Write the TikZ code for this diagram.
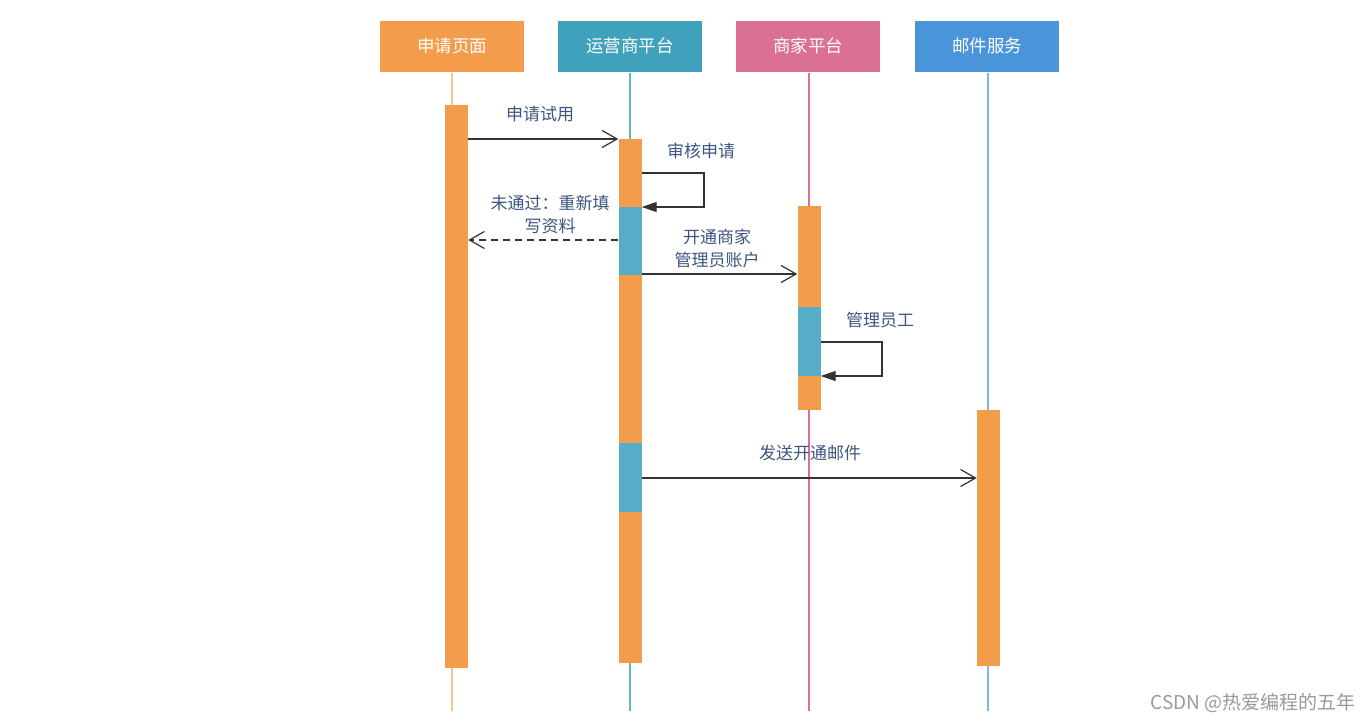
\documentclass[tikz,border=0pt]{standalone}
\usepackage{fontspec}
\newfontfamily\cjk{Noto Sans CJK SC}
\usetikzlibrary{arrows.meta}
\definecolor{cOrange}{HTML}{F39C4B}
\definecolor{cTeal}{HTML}{3FA1BB}
\definecolor{cTealBar}{HTML}{55ADC7}
\definecolor{cPink}{HTML}{DA7193}
\definecolor{cBlue}{HTML}{4A95D9}
\definecolor{cLabel}{HTML}{3D5580}
\definecolor{cLine}{HTML}{333333}
\tikzset{
  head/.style={draw=white, fill=#1, text=white, minimum width=145pt, minimum height=52pt, inner sep=0pt, font=\cjk\fontsize{17.5}{20}\selectfont},
  bar/.style={fill=#1, draw=none, minimum width=23pt, inner sep=0pt, anchor=north},
  life/.style={line width=1.2pt, draw=#1},
  msg/.style={draw=cLine, line width=1.2pt, -{Straight Barb[length=15pt,width=17pt,line width=1.2pt]}},
  ret/.style={msg, dashed, dash pattern=on 7pt off 5pt},
  selfmsg/.style={draw=cLine, line width=1.2pt, -{Triangle[length=15pt,width=10pt]}},
  lbl/.style={text=cLabel, font=\cjk\fontsize{17}{23}\selectfont, align=center, inner sep=0pt}
}
\begin{document}
\begin{tikzpicture}[x=1pt,y=-1pt]
\useasboundingbox (0,0) rectangle (1371,723);
% lifelines
\draw[life=cOrange!60] (452,71) -- (452,711);
\draw[life=cTeal!80] (630,71) -- (630,711);
\draw[life=cPink] (809,71) -- (809,711);
\draw[life=cBlue!70] (988,71) -- (988,711);
% headers
\node[head=cOrange] (h1) at (452,46) {申请页面};
\node[head=cTeal] (h2) at (630,46) {运营商平台};
\node[head=cPink] (h3) at (808,46) {商家平台};
\node[head=cBlue] (h4) at (987,46) {邮件服务};
% activation bars
\node[bar=cOrange, minimum height=563pt] (a1) at (456.5,105) {};
\node[bar=cOrange, minimum height=524pt] (a2) at (630,139) {};
\node[bar=cTealBar, minimum height=68pt] (a2t1) at (630,207) {};
\node[bar=cTealBar, minimum height=69pt] (a2t2) at (630,443) {};
\node[bar=cOrange, minimum height=204pt] (a3) at (809,206) {};
\node[bar=cTealBar, minimum height=69pt] (a3t) at (809,307) {};
\node[bar=cOrange, minimum height=256pt] (a4) at (988.5,410) {};
% messages
\coordinate (m1s) at (a1.east |- 0,139);
\coordinate (m1e) at (a2.west |- 0,139);
\draw[msg] (m1s) -- (m1e);
\node[lbl] (l1) at (540,114) {申请试用};

\coordinate (s1a) at (a2.east |- 0,173);
\coordinate (s1b) at (a2.east |- 0,207);
\draw[selfmsg] (s1a) -- (704,173) -- (704,207) -- (s1b);
\node[lbl] (l2) at (701,151) {审核申请};

\coordinate (r1s) at (a2.west |- 0,240);
\coordinate (r1e) at (a1.east |- 0,240);
\draw[ret] (r1s) -- (r1e);
\node[lbl] (l3) at (550,215) {未通过：重新填\\写资料};

\coordinate (m2s) at (a2.east |- 0,274);
\coordinate (m2e) at (a3.west |- 0,274);
\draw[msg] (m2s) -- (m2e);
\node[lbl] (l4) at (717,249) {开通商家\\管理员账户};

\coordinate (s2a) at (a3.east |- 0,342);
\coordinate (s2b) at (a3.east |- 0,376);
\draw[selfmsg] (s2a) -- (882,342) -- (882,376) -- (s2b);
\node[lbl] (l5) at (880,320) {管理员工};

\coordinate (m3s) at (a2.east |- 0,478);
\coordinate (m3e) at (a4.west |- 0,478);
\draw[msg] (m3s) -- (m3e);
\node[lbl] (l6) at (810,453) {发送开通邮件};

% watermark
\node[text=gray!80, font=\cjk\fontsize{19}{21}\selectfont, anchor=east, inner sep=0pt] (wm) at (1356,703) {CSDN @热爱编程的五年};
\end{tikzpicture}
\end{document}
